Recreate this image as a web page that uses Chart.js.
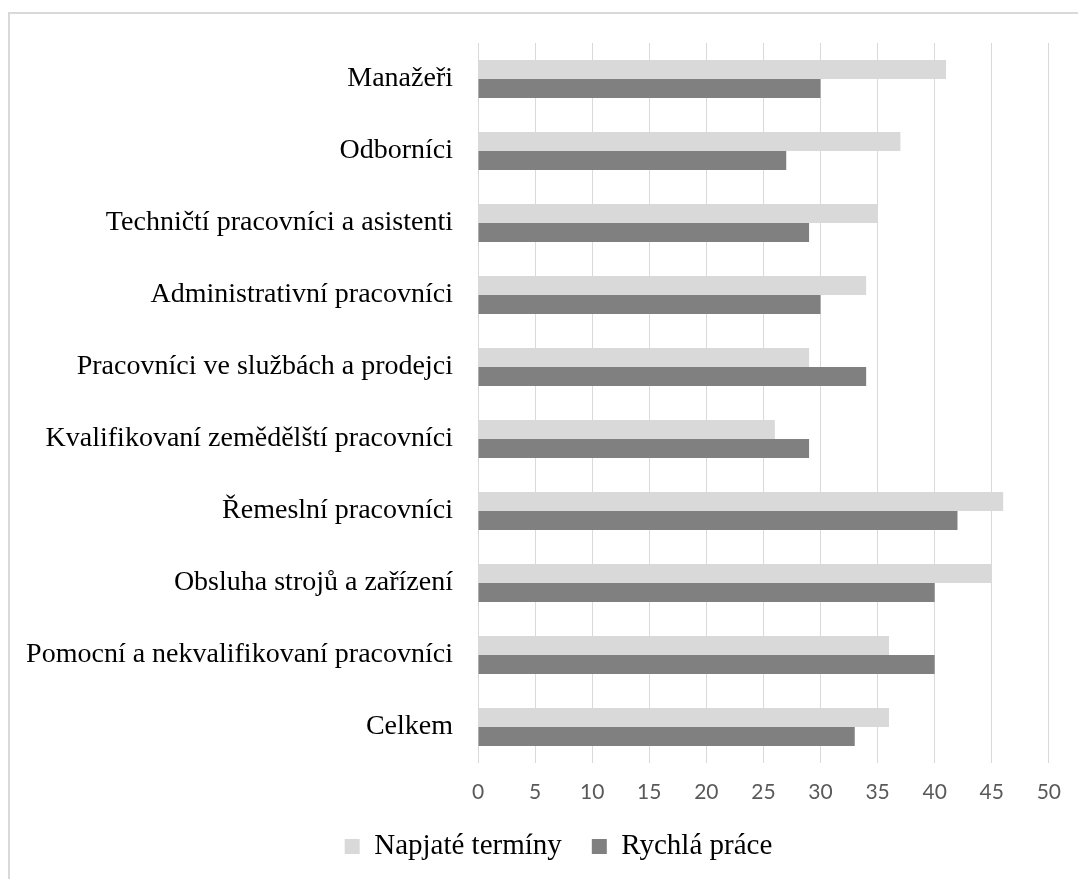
<!DOCTYPE html>
<html>
<head>
<meta charset="utf-8">
<script src="https://cdn.jsdelivr.net/npm/chart.js@4/dist/chart.umd.min.js"></script>
<style>
  html, body { margin: 0; padding: 0; background: #ffffff; }
  #wrap { position: absolute; left: 0; top: 0; width: 1078px; height: 879px; }
</style>
</head>
<body>
<div id="wrap"><canvas id="c"></canvas></div>
<script>
const categories = [
  "Manažeři",
  "Odborníci",
  "Techničtí pracovníci a asistenti",
  "Administrativní pracovníci",
  "Pracovníci ve službách a prodejci",
  "Kvalifikovaní zemědělští pracovníci",
  "Řemeslní pracovníci",
  "Obsluha strojů a zařízení",
  "Pomocní a nekvalifikovaní pracovníci",
  "Celkem"
];
const napjateTerminy = [41, 37, 35, 34, 29, 26, 46, 45, 36, 36];
const rychlaPrace    = [30, 27, 29, 30, 34, 29, 42, 40, 40, 33];
const seriesNames = ["Napjaté termíny", "Rychlá práce"];
const xTicks = [0, 5, 10, 15, 20, 25, 30, 35, 40, 45, 50];

const frame = {
  id: 'frame',
  beforeDraw(chart) {
    const ctx = chart.ctx;
    ctx.save();
    ctx.fillStyle = '#ffffff';
    ctx.fillRect(0, 0, chart.width, chart.height);
    ctx.strokeStyle = '#d9d9d9';
    ctx.lineWidth = 2;
    ctx.strokeRect(9, 13, 1100, 900);
    ctx.restore();
  }
};

const legendShift = {
  id: 'legendShift',
  afterLayout(chart) {
    if (chart.legend) {
      chart.legend.left += 29;
      chart.legend.right += 29;
    }
  }
};

new Chart(document.getElementById('c'), {
  type: 'bar',
  data: {
    labels: categories,
    datasets: [
      { label: seriesNames[0], data: napjateTerminy, backgroundColor: '#d9d9d9',
        categoryPercentage: 0.53, barPercentage: 1.0 },
      { label: seriesNames[1], data: rychlaPrace, backgroundColor: '#808080',
        categoryPercentage: 0.53, barPercentage: 1.0 }
    ]
  },
  plugins: [frame, legendShift],
  options: {
    indexAxis: 'y',
    responsive: true,
    maintainAspectRatio: false,
    animation: false,
    layout: { padding: { left: 4, right: 23, top: 43, bottom: 8 } },
    scales: {
      x: {
        min: 0, max: 50,
        afterBuildTicks(scale) { scale.ticks = xTicks.map(v => ({ value: v })); },
        afterFit(scale) { scale.height = 39; },
        grid: { color: '#d9d9d9', lineWidth: 1, drawTicks: false },
        border: { display: false },
        ticks: { color: '#595959', padding: 17, font: { family: 'Lato', size: 21 } }
      },
      y: {
        grid: { display: false, drawTicks: false },
        border: { display: false },
        afterFit(scale) { scale.width = 474; },
        ticks: { color: '#000000', padding: 25, font: { family: 'Liberation Serif', size: 28 } }
      }
    },
    plugins: {
      tooltip: { enabled: false },
      legend: {
        position: 'bottom',
        labels: {
          color: '#000000',
          font: { family: 'Liberation Serif', size: 29 },
          boxWidth: 15, boxHeight: 15, padding: 30
        }
      }
    }
  }
});
</script>
</body>
</html>
